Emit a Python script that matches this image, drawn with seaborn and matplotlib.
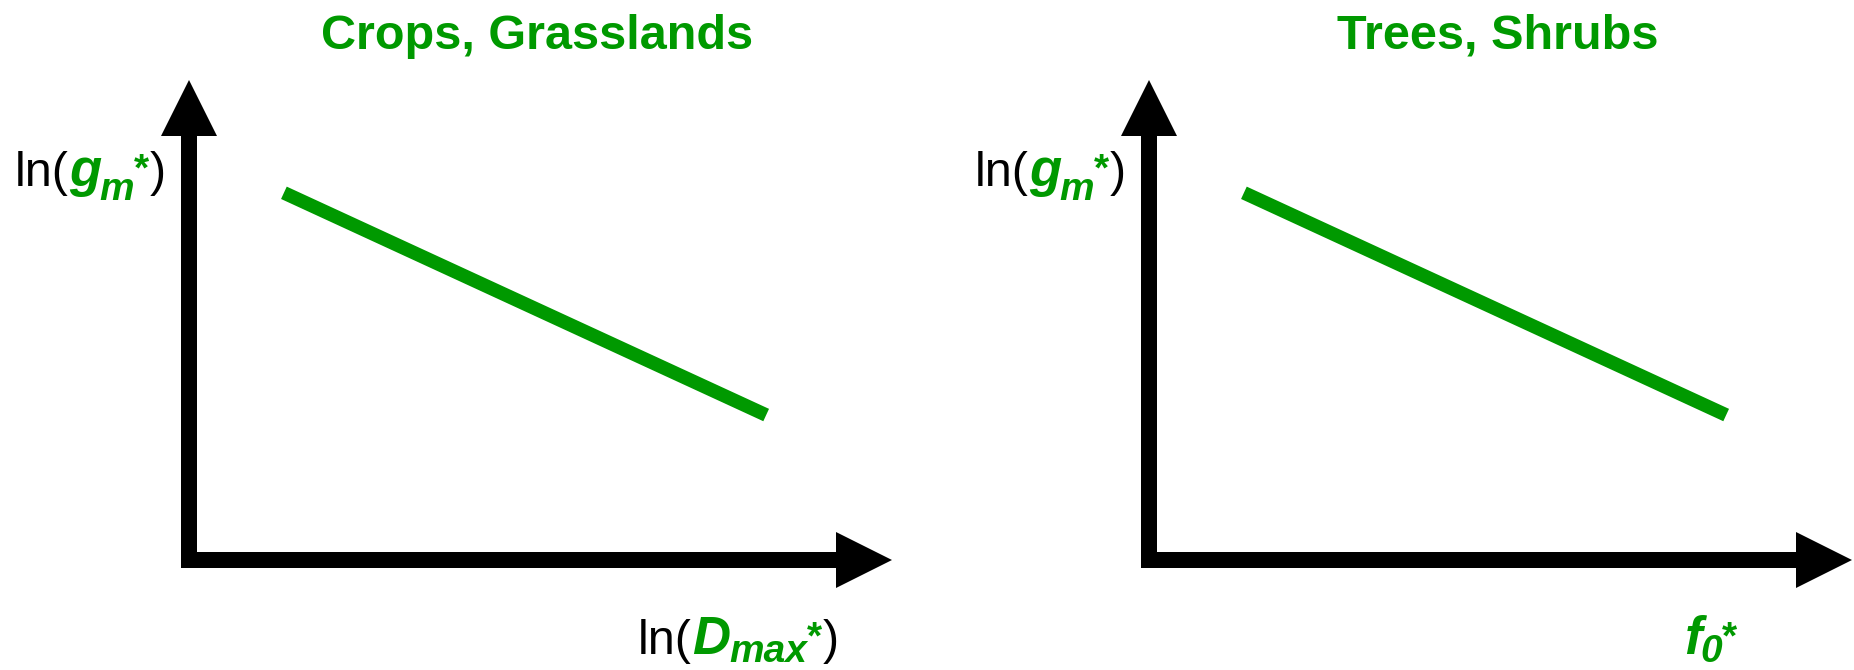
import matplotlib
matplotlib.use("Agg")
import matplotlib.pyplot as plt
import seaborn as sns
import pandas as pd
from matplotlib.patches import Polygon, Rectangle

# Panel titles
titles = ["Crops, Grasslands", "Trees, Shrubs"]
# Schematic trend in normalised axis units (start, end)
trend_x = [0.135, 0.821]
trend_y = [0.765, 0.302]

GREEN = "#009900"
BLACK = "#000000"
W, H, DPI = 1854, 670, 100

sns.set_theme(style="white")
plt.rcParams["font.family"] = ["Liberation Sans", "DejaVu Sans"]

fig = plt.figure(figsize=(W / DPI, H / DPI), dpi=DPI)
fig.patch.set_facecolor("white")

# axes geometry in pixels: origin corner and extent to arrow tips
AX_W, AX_H = 703, 480
corners = [(189, 560), (1149, 560)]
SHAFT = 8      # half thickness of axis shafts
HEAD_W = 28    # half width of arrow heads
HEAD_L = 56    # length of arrow heads

trend = pd.DataFrame({"x": trend_x, "y": trend_y})

axes = []
for (cx, cy), title in zip(corners, titles):
    ax = fig.add_axes([cx / W, (H - cy) / H, AX_W / W, AX_H / H])
    ax.set_xlim(0, 1)
    ax.set_ylim(0, 1)
    ax.set_axis_off()
    fx, fy = 1.0 / AX_W, 1.0 / AX_H

    # axis shafts
    ax.add_patch(Rectangle((-SHAFT * fx, -SHAFT * fy), 2 * SHAFT * fx,
                           (AX_H - HEAD_L + SHAFT) * fy, color=BLACK,
                           clip_on=False, lw=0))
    ax.add_patch(Rectangle((-SHAFT * fx, -SHAFT * fy),
                           (AX_W - HEAD_L + SHAFT) * fx, 2 * SHAFT * fy,
                           color=BLACK, clip_on=False, lw=0))
    # arrow heads
    ax.add_patch(Polygon([(-HEAD_W * fx, (AX_H - HEAD_L) * fy),
                          (HEAD_W * fx, (AX_H - HEAD_L) * fy), (0, 1)],
                         closed=True, color=BLACK, clip_on=False, lw=0))
    ax.add_patch(Polygon([((AX_W - HEAD_L) * fx, -HEAD_W * fy),
                          ((AX_W - HEAD_L) * fx, HEAD_W * fy), (1, 0)],
                         closed=True, color=BLACK, clip_on=False, lw=0))

    sns.lineplot(data=trend, x="x", y="y", ax=ax, color=GREEN, linewidth=9.8,
                 solid_capstyle="butt", legend=False)
    ax.set_axis_off()

    fig.text((cx + AX_W / 2 - 3) / W, 1 - 49 / H, title, color=GREEN,
             fontsize=35, fontweight="bold", ha="center", va="baseline")
    axes.append(ax)

renderer = fig.canvas.get_renderer()

MAIN, VAR, SMALL = 35, 38, 28


def rich_label(x0, base, parts):
    """Draw text pieces one after another along a shared baseline."""
    x = x0
    for s, color, weight, style, size, dy, dx in parts:
        t = fig.text((x + dx) / W, 1 - (base + dy) / H, s, color=color,
                     fontsize=size, fontweight=weight, fontstyle=style,
                     ha="left", va="baseline")
        bb = t.get_window_extent(renderer)
        x = bb.x1


def gm_label(x0):
    rich_label(x0, 186, [
        ("ln(", BLACK, "normal", "normal", MAIN, 0, 0),
        ("g", GREEN, "bold", "italic", VAR, 0, 0),
        ("m", GREEN, "bold", "italic", SMALL, 14, -2),
        ("*", GREEN, "bold", "normal", SMALL, -6, 0),
        (")", BLACK, "normal", "normal", MAIN, 0, 1),
    ])


gm_label(15)
gm_label(975)

rich_label(638, 654, [
    ("ln(", BLACK, "normal", "normal", MAIN, 0, 0),
    ("D", GREEN, "bold", "italic", VAR, 0, 0),
    ("max", GREEN, "bold", "italic", SMALL, 8, -1),
    ("*", GREEN, "bold", "normal", SMALL, -6, 0),
    (")", BLACK, "normal", "normal", MAIN, 0, 1),
])

rich_label(1684, 654, [
    ("f", GREEN, "bold", "italic", VAR, 0, 0),
    ("0", GREEN, "bold", "italic", SMALL, 8, -1),
    ("*", GREEN, "bold", "normal", SMALL, -6, 0),
])

fig.savefig("out.png", dpi=DPI, facecolor="white")
